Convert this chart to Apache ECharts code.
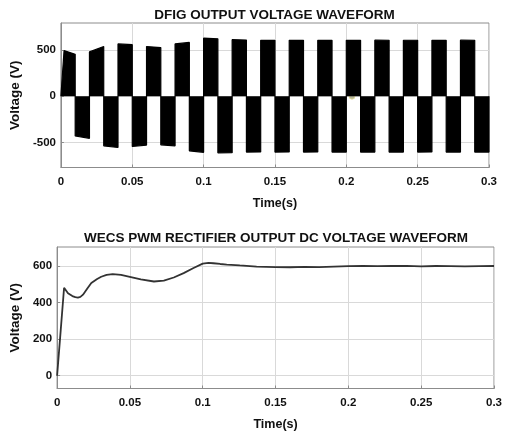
<!DOCTYPE html>
<html>
<head>
<meta charset="utf-8">
<script src="https://cdn.jsdelivr.net/npm/echarts@6/dist/echarts.min.js"></script>
<style>
  html, body { margin: 0; padding: 0; background: #fff; }
  #chart { width: 505px; height: 434px; }
</style>
</head>
<body>
<div id="chart"></div>
<script>
// ---- DFIG stator voltage: PWM bands, one per half cycle ----
const halfCycleEdges = [0, 0.01, 0.02, 0.03, 0.04, 0.05, 0.06, 0.07, 0.08, 0.09, 0.10,
  0.11, 0.12, 0.13, 0.14, 0.15, 0.16, 0.17, 0.18, 0.19, 0.20,
  0.21, 0.22, 0.23, 0.24, 0.25, 0.26, 0.27, 0.28, 0.29, 0.30];
// band envelope at the start and end of each half cycle (V)
const bandOnVoltage = [492, -430, 478, -536, 564, -543, 536, -525, 564, -590,
  626, -612, 610, -603, 604, -603, 603, -603, 603, -604,
  604, -604, 605, -603, 604, -603, 604, -603, 605, -603];
const bandOffVoltage = [452, -455, 536, -554, 556, -528, 525, -536, 580, -606,
  620, -610, 606, -602, 603, -602, 603, -602, 604, -603,
  603, -603, 604, -603, 604, -602, 603, -603, 604, -603];
const startupRiseTime = 0.0022;   // first band ramps up from 0 V
const datatipPoint = [0.204, 0];

// ---- PWM rectifier DC-link voltage ----
const dcTime = [0, 0.0025, 0.0048, 0.0056, 0.0075, 0.0105, 0.0125, 0.0143, 0.016, 0.0178,
  0.021, 0.0235, 0.0275, 0.0303, 0.034, 0.0382, 0.0439, 0.0507, 0.0575, 0.0665,
  0.0733, 0.0801, 0.0869, 0.0937, 0.1, 0.104, 0.1073, 0.112, 0.1165, 0.1255,
  0.137, 0.15, 0.16, 0.17, 0.18, 0.19, 0.2, 0.21, 0.22, 0.23,
  0.24, 0.25, 0.26, 0.27, 0.28, 0.29, 0.3];
const dcVoltage = [0, 250, 482, 478, 452, 436, 430, 428, 432, 444,
  480, 508, 530, 542, 552, 556, 552, 540, 528, 516,
  521, 538, 562, 590, 614, 618, 616, 612, 609, 604,
  598, 595, 594, 596, 595, 598, 600, 602, 600, 601,
  602, 599, 601, 600, 599, 600, 601];

// ---- axis ticks ----
const timeTicks = { min: 0, max: 0.3, step: 0.05 };
const acVoltageTicks = [-500, 0, 500];
const dcVoltageTicks = [0, 200, 400, 600];

// Build the filled band outline from the per-half-cycle envelopes.
const dfigOutline = [];
for (let k = 0; k < bandOnVoltage.length; k++) {
  const t0 = halfCycleEdges[k], t1 = halfCycleEdges[k + 1];
  dfigOutline.push([t0, 0]);
  dfigOutline.push([k === 0 ? startupRiseTime : t0, bandOnVoltage[k]]);
  dfigOutline.push([t1, bandOffVoltage[k]]);
  dfigOutline.push([t1, 0]);
}
const dcSeries = dcTime.map((t, i) => [t, dcVoltage[i]]);

const FONT = '"Liberation Sans", Arial, sans-serif';
const gridColor = '#d9d9d9';
const boxColor = '#8c8c8c';
const labelStyle = { color: '#111', fontFamily: FONT, fontWeight: 'bold', fontSize: 11.5 };
const nameStyle = { color: '#111', fontFamily: FONT, fontWeight: 'bold' };

function timeAxis(gridIndex) {
  return {
    type: 'value', gridIndex,
    min: timeTicks.min, max: timeTicks.max, interval: timeTicks.step,
    name: 'Time(s)', nameLocation: 'middle', nameGap: 30,
    nameTextStyle: Object.assign({ fontSize: 12.5 }, nameStyle),
    axisLine: { show: true, onZero: false, lineStyle: { color: boxColor } },
    axisTick: { show: true, inside: true, length: 3, lineStyle: { color: boxColor } },
    axisLabel: Object.assign({ margin: 8 }, labelStyle),
    splitLine: { show: true, lineStyle: { color: gridColor, width: 1 } }
  };
}
function voltageAxis(gridIndex, min, max, ticks, gap) {
  return {
    type: 'value', gridIndex, min, max,
    name: 'Voltage (V)', nameLocation: 'middle', nameGap: gap, nameRotate: 90,
    nameTextStyle: Object.assign({ fontSize: 13.5 }, nameStyle),
    axisLine: { show: true, lineStyle: { color: boxColor } },
    axisTick: { show: true, inside: true, length: 3, customValues: ticks, lineStyle: { color: boxColor } },
    axisLabel: Object.assign({ margin: 5, customValues: ticks }, labelStyle),
    splitLine: { show: true, lineStyle: { color: gridColor, width: 1 } }
  };
}

const titleStyle = { fontFamily: FONT, fontWeight: 'bold', fontSize: 13.5, color: '#111' };

const chart = echarts.init(document.getElementById('chart'), null, { renderer: 'canvas' });
chart.setOption({
  animation: false,
  backgroundColor: '#ffffff',
  title: [
    { text: 'DFIG OUTPUT VOLTAGE WAVEFORM', left: 274.5, top: 8, padding: 0,
      textAlign: 'center', textStyle: titleStyle },
    { text: 'WECS PWM RECTIFIER OUTPUT DC VOLTAGE WAVEFORM', left: 276, top: 231, padding: 0,
      textAlign: 'center', textStyle: titleStyle }
  ],
  grid: [
    { left: 60, right: 16, top: 23, height: 144.5, show: true, borderColor: boxColor, borderWidth: 1, backgroundColor: 'transparent' },
    { left: 55.5, right: 9.5, top: 247, height: 141.5, show: true, borderColor: boxColor, borderWidth: 1, backgroundColor: 'transparent' }
  ],
  xAxis: [timeAxis(0), timeAxis(1)],
  yAxis: [
    voltageAxis(0, -770, 790, acVoltageTicks, 31),
    voltageAxis(1, -70, 705, dcVoltageTicks, 31)
  ],
  series: [
    {
      type: 'line', xAxisIndex: 0, yAxisIndex: 0,
      data: dfigOutline, symbol: 'none', silent: true,
      lineStyle: { color: '#000', width: 1.2 },
      areaStyle: { color: '#000', opacity: 1, origin: 0 }
    },
    {
      type: 'scatter', xAxisIndex: 0, yAxisIndex: 0,
      data: [datatipPoint], symbolSize: 6, silent: true,
      itemStyle: { color: '#a3a37e', borderColor: '#e6dc96', borderWidth: 1 }
    },
    {
      type: 'line', xAxisIndex: 1, yAxisIndex: 1,
      data: dcSeries, symbol: 'none', silent: true,
      lineStyle: { color: '#333', width: 1.8 }
    }
  ]
});
</script>
</body>
</html>
